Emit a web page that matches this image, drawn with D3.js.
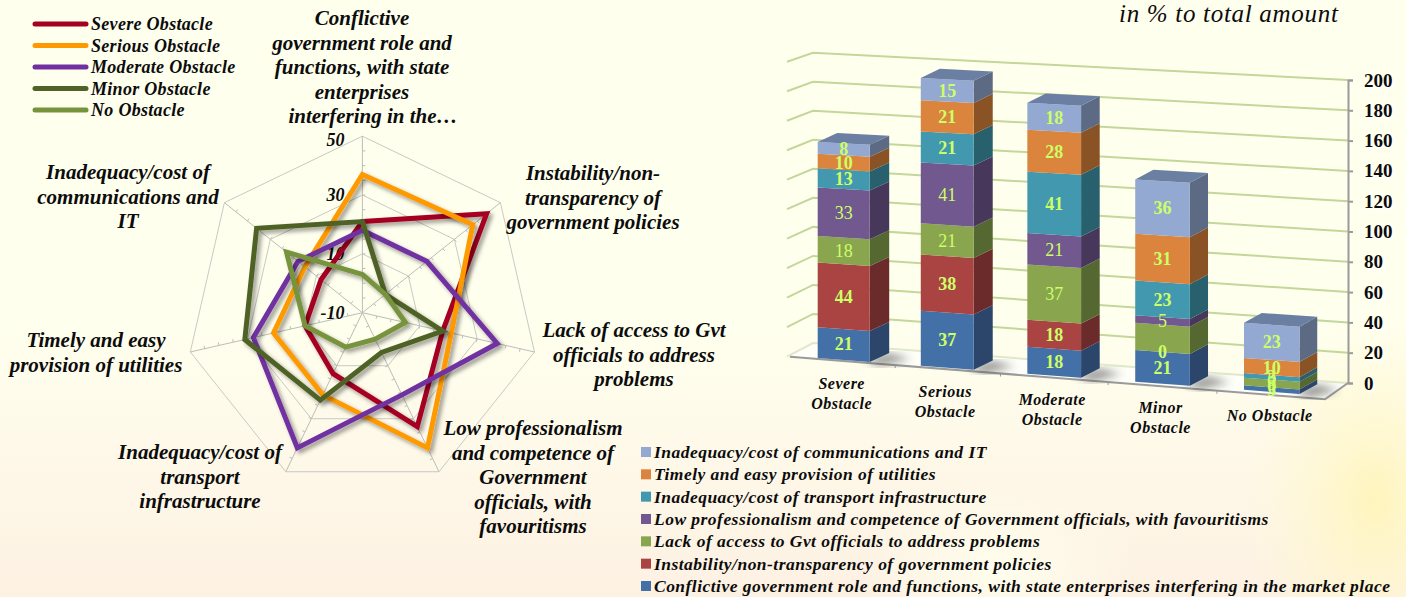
<!DOCTYPE html>
<html>
<head>
<meta charset="utf-8">
<title>Obstacles</title>
<script src="https://cdn.jsdelivr.net/npm/d3@7"></script>
<style>
  html, body { margin: 0; padding: 0; overflow: hidden; background: #ffffee; }
  svg { display: block; }
  text { font-family: "Liberation Serif", serif; fill: #0c0c0c; }
  .bi { font-weight: bold; font-style: italic; }
  .axis-value text { font-size: 19px; font-weight: bold; text-shadow: 2px 2px 3px #fff; }
</style>
</head>
<body>
<div id="chart"></div>
<script>
const obstacles = ["Severe Obstacle", "Serious Obstacle", "Moderate Obstacle", "Minor Obstacle", "No Obstacle"]
const factors = [
  "Conflictive government role and functions, with state enterprises interfering in the market place",
  "Instability/non-transparency of government policies",
  "Lack of access to Gvt officials to address problems",
  "Low professionalism and competence of Government officials, with favouritisms",
  "Inadequacy/cost of transport infrastructure",
  "Timely and easy provision of utilities",
  "Inadequacy/cost of communications and IT",
]

// values per obstacle, same order as factors
const severe = [21, 44, 18, 33, 13, 10, 8]
const serious = [37, 38, 21, 41, 21, 21, 15]
const moderate = [18, 18, 37, 21, 41, 28, 18]
const minor = [21, 0, 18, 5, 23, 31, 36]
const none = [3, 0, 5, 0, 3, 10, 23]
const allValues = [severe, serious, moderate, minor, none]

const radarTicks = [-10, 10, 30, 50]
const barTicks = [0, 20, 40, 60, 80, 100, 120, 140, 160, 180, 200]

const radarLabels = [
  ["Conflictive", "government role and", "functions, with state", "enterprises", "interfering in the…"],
  ["Instability/non-", "transparency of", "government policies"],
  ["Lack of access to Gvt", "officials to address", "problems"],
  ["Low professionalism", "and competence of", "Government", "officials, with", "favouritisms"],
  ["Inadequacy/cost of", "transport", "infrastructure"],
  ["Timely and easy", "provision of utilities"],
  ["Inadequacy/cost of", "communications and", "IT"],
]
const barCategoryLabels = [["Severe", "Obstacle"], ["Serious", "Obstacle"], ["Moderate", "Obstacle"], ["Minor", "Obstacle"], ["No Obstacle"]]

const lineColors = ["#a50021", "#ff9900", "#7030a0", "#4f6228", "#77933c"]
const barColors = ["#4470a8", "#a94442", "#89a54e", "#71588f", "#4198af", "#db843d", "#93a9d1"]

const width = 1406,
  height = 597

const svg = d3.select("#chart").append("svg").attr("width", width).attr("height", height)
const defs = svg.append("defs")

// background washes
const wash = defs.append("linearGradient").attr("id", "wash").attr("x1", 0).attr("y1", 0).attr("x2", 0).attr("y2", 1)
wash.append("stop").attr("offset", 0.55).attr("stop-color", "#ffffee")
wash.append("stop").attr("offset", 1).attr("stop-color", "#fdf1e2")
const glow = defs.append("radialGradient").attr("id", "glow")
glow.append("stop").attr("offset", 0).attr("stop-color", "#fff4b8").attr("stop-opacity", 0.9)
glow.append("stop").attr("offset", 1).attr("stop-color", "#fffbd0").attr("stop-opacity", 0)
const calm = defs.append("radialGradient").attr("id", "calm")
calm.append("stop").attr("offset", 0).attr("stop-color", "#ffffee").attr("stop-opacity", 0.9)
calm.append("stop").attr("offset", 1).attr("stop-color", "#ffffee").attr("stop-opacity", 0)

svg.append("rect").attr("width", width).attr("height", height).attr("fill", "url(#wash)")
svg.append("ellipse").attr("cx", 1000).attr("cy", 570).attr("rx", 140).attr("ry", 90).attr("fill", "url(#calm)")
svg.append("ellipse").attr("cx", 1375).attr("cy", 500).attr("rx", 130).attr("ry", 190).attr("fill", "url(#glow)")

const lineShadow = defs.append("filter").attr("id", "lineShadow").attr("x", "-20%").attr("y", "-20%").attr("width", "140%").attr("height", "140%")
lineShadow.append("feDropShadow").attr("dx", 3).attr("dy", 3).attr("stdDeviation", 2).attr("flood-color", "#000").attr("flood-opacity", 0.4)
defs.append("filter").attr("id", "blur").append("feGaussianBlur").attr("stdDeviation", 4)

drawRadar()
drawBars()
drawLegends()

svg
  .append("text")
  .attr("x", 1119)
  .attr("y", 22)
  .style("font-size", "25px")
  .style("font-style", "italic")
  .style("letter-spacing", "0.7px")
  .text("in % to total amount")

function drawRadar() {
  const cx = 362.4,
    cy = 312.7,
    radius = 176.5
  const r = d3.scaleLinear().domain([-10, 50]).range([0, radius])
  const angle = d3.scalePoint().domain(d3.range(factors.length + 1)).range([0, 2 * Math.PI])
  const px = (i, v) => cx + r(v) * Math.sin(angle(i))
  const py = (i, v) => cy - r(v) * Math.cos(angle(i))
  const g = svg.append("g")
  const idx = d3.range(factors.length)

  const ring = (v) =>
    d3
      .line()
      .x((i) => px(i, v))
      .y((i) => py(i, v))
      .curve(d3.curveLinearClosed)(idx)

  g.selectAll(".ring")
    .data(radarTicks.slice(1))
    .enter()
    .append("path")
    .attr("d", ring)
    .attr("fill", "none")
    .attr("stroke", "#c9c9c4")
    .attr("stroke-width", 1)

  g.selectAll(".spoke")
    .data(idx)
    .enter()
    .append("line")
    .attr("x1", cx)
    .attr("y1", cy)
    .attr("x2", (i) => px(i, 50))
    .attr("y2", (i) => py(i, 50))
    .attr("stroke", "#bdbdb8")
    .attr("stroke-width", 1)

  // minor ticks on every spoke
  const minorTicks = r.ticks(12).filter((t) => t > -10 && t < 50)
  idx.forEach((i) => {
    g.selectAll(null)
      .data(minorTicks)
      .enter()
      .append("line")
      .attr("x1", (t) => px(i, t))
      .attr("y1", (t) => py(i, t))
      .attr("x2", (t) => px(i, t) + 3 * Math.cos(angle(i)))
      .attr("y2", (t) => py(i, t) + 3 * Math.sin(angle(i)))
      .attr("stroke", "#bdbdb8")
  })

  g.selectAll(".tickLabel")
    .data(radarTicks)
    .enter()
    .append("text")
    .attr("class", "bi")
    .attr("x", cx - 18)
    .attr("y", (t) => py(0, t) + (t === 50 ? 10 : 6))
    .attr("text-anchor", "end")
    .style("font-size", "18px")
    .text((t) => t)

  const line = (values) =>
    d3
      .line()
      .x((v, i) => px(i, v))
      .y((v, i) => py(i, v))
      .curve(d3.curveLinearClosed)(values)

  g.selectAll(".series")
    .data(allValues)
    .enter()
    .append("path")
    .attr("d", line)
    .attr("fill", "none")
    .attr("stroke", (d, i) => lineColors[i])
    .attr("stroke-width", 5)
    .attr("stroke-linejoin", "miter")
    .attr("filter", "url(#lineShadow)")

  // label anchors: centre x and first baseline
  const anchors = [
    [362, 25],
    [593, 180],
    [634, 337],
    [533, 435],
    [200, 459],
    [96, 347],
    [128, 179],
  ]
  radarLabels.forEach((lines, i) => {
    g.selectAll(null)
      .data(lines)
      .enter()
      .append("text")
      .attr("class", "bi")
      .attr("x", (d, j) => anchors[i][0] + (i === 0 && j === 4 ? 11 : 0))
      .attr("y", (d, j) => anchors[i][1] + j * 24.6)
      .attr("text-anchor", "middle")
      .style("font-size", "21px")
      .text((d) => d)
  })
}

function drawBars() {
  const g = svg.append("g")

  // wall corners, read as y positions at each end of the value range
  const wallLeftX = 787,
    backLeftX = 813,
    axisX = 1348,
    floorRightX = 1325
  const value = d3.scaleLinear().domain([0, 200])
  const frontEdgeY = value.copy().range([356.7, 61.7])
  const backLeftY = value.copy().range([343, 52.7])
  const backRightY = value.copy().range([383, 80])

  // floor
  const floorFrontY = d3.scaleLinear().domain([wallLeftX, floorRightX]).range([356.5, 399.3])
  g.append("path")
    .attr("d", d3.line()([[wallLeftX, frontEdgeY(0)], [backLeftX, backLeftY(0)], [axisX, backRightY(0)], [floorRightX, floorFrontY(floorRightX)]]))
    .attr("fill", "#fffffa")

  // wall gridlines
  const wall = d3.line()
  g.selectAll(".grid")
    .data(barTicks)
    .enter()
    .append("path")
    .attr("d", (t) => wall([[wallLeftX, frontEdgeY(t)], [backLeftX, backLeftY(t)], [axisX, backRightY(t)]]))
    .attr("fill", "none")
    .attr("stroke", (t) => (t === 0 ? "#dfe8c8" : "#c3d79b"))
    .attr("stroke-width", 2)

  // axes
  g.append("path")
    .attr("d", d3.line()([[wallLeftX + 3, floorFrontY(wallLeftX + 3)], [floorRightX, floorFrontY(floorRightX)], [axisX, backRightY(0)]]))
    .attr("fill", "none")
    .attr("stroke", "#9a9a9a")
    .attr("stroke-width", 2)
  const axisScale = d3.scaleLinear().domain([0, 200]).range([backRightY(0), backRightY(200)])
  const yAxis = g
    .append("g")
    .attr("class", "axis-value")
    .attr("transform", `translate(${axisX},0)`)
    .call(d3.axisRight(axisScale).tickValues(barTicks).tickSize(5).tickPadding(11))
  yAxis.selectAll("path, line").attr("stroke", "#9a9a9a").attr("stroke-width", 2)
  yAxis.selectAll("text").style("fill", "#0c0c0c")

  // perspective widens the slots towards the right
  const catX = d3.scalePow().exponent(1.024).domain([0, obstacles.length - 1]).range([817.7, 1244])
  const barWidth = d3.scaleLinear().domain([0, obstacles.length - 1]).range([52, 55.5])
  const floorY = d3.scaleLinear().domain([817.7, 1299.3]).range([358, 394])
  const height = d3.scaleLinear().domain([0, 200]).range([0, 300])
  const stretch = d3.scaleLinear().domain([817.7, 1299.3]).range([0.98, 1.02])
  const depthX = d3.scaleLinear().domain([817.7, 1299.3]).range([19.5, 17.5])
  const depthY = d3.scaleLinear().domain([817.7, 1299.3]).range([-9, -10])
  const yAt = (x, v) => floorY(x) - height(v) * stretch(x)

  // floor ticks between the categories
  const tickX = (i) => (catX(i) + barWidth(i) + catX(i + 1)) / 2
  g.selectAll(".floorTick")
    .data(d3.range(obstacles.length - 1))
    .enter()
    .append("line")
    .attr("x1", tickX)
    .attr("x2", tickX)
    .attr("y1", (i) => floorFrontY(tickX(i)))
    .attr("y2", (i) => floorFrontY(tickX(i)) + 3)
    .attr("stroke", "#9a9a9a")

  const rows = obstacles.map((name, i) => {
    const row = { name }
    factors.forEach((f, j) => (row[f] = allValues[i][j]))
    return row
  })
  const stacked = d3.stack().keys(factors)(rows)
  const poly = d3.line().curve(d3.curveLinearClosed)

  obstacles.forEach((name, c) => {
    const x0 = catX(c)
    const x1 = x0 + barWidth(c)
    const dx = depthX(x0)
    const dy = depthY(x0)
    const bar = g.append("g")

    // soft shadow on the floor
    bar
      .append("path")
      .attr("d", poly([[x1 - 6, yAt(x1, 0) - 3], [x1 + dx, yAt(x1, 0) + dy], [x1 + dx + 22, yAt(x1, 0) + dy + 6], [x1 + 10, yAt(x1, 0) + 4]]))
      .attr("fill", "#555")
      .attr("opacity", 0.6)
      .attr("filter", "url(#blur)")

    stacked.forEach((layer, s) => {
      const [a, b] = layer[c]
      if (b === a) return
      const color = d3.color(barColors[s])
      bar
        .append("path")
        .attr("d", poly([[x1, yAt(x1, a)], [x1 + dx, yAt(x1, a) + dy], [x1 + dx, yAt(x1, b) + dy], [x1, yAt(x1, b)]]))
        .attr("fill", color.darker(1.3))
      bar
        .append("path")
        .attr("d", poly([[x0, yAt(x0, a)], [x1, yAt(x1, a)], [x1, yAt(x1, b)], [x0, yAt(x0, b)]]))
        .attr("fill", color)
    })

    const top = d3.sum(allValues[c])
    bar
      .append("path")
      .attr("d", poly([[x0, yAt(x0, top)], [x0 + dx, yAt(x0, top) + dy], [x1 + dx, yAt(x1, top) + dy], [x1, yAt(x1, top)]]))
      .attr("fill", "#6b7fa3")

    // data labels, the reference has none on the Minor / Lack of access segment
    stacked.forEach((layer, s) => {
      if (c === 3 && s === 2) return
      const [a, b] = layer[c]
      const mid = (x0 + x1) / 2
      bar
        .append("text")
        .attr("x", mid)
        .attr("y", yAt(mid, (a + b) / 2) + 6)
        .attr("text-anchor", "middle")
        .style("font-size", "18px")
        .style("font-weight", s === 2 || s === 3 ? "normal" : "bold")
        .style("fill", "#ccff66")
        .text(b - a)
    })

    // category label
    const lx = (x0 + x1) / 2 - 2
    g.selectAll(null)
      .data(barCategoryLabels[c])
      .enter()
      .append("text")
      .attr("class", "bi")
      .attr("x", lx)
      .attr("y", (d, j) => floorY(lx) + 29 + j * 20)
      .attr("text-anchor", "middle")
      .style("font-size", "16px")
      .style("letter-spacing", "0.5px")
      .text((d) => d)
  })
}

function drawLegends() {
  const lineRow = d3.scalePoint().domain(obstacles).range([24, 110])
  const lg = svg.append("g")
  lg.selectAll("line")
    .data(obstacles)
    .enter()
    .append("line")
    .attr("x1", 35)
    .attr("x2", 86)
    .attr("y1", (d) => lineRow(d))
    .attr("y2", (d) => lineRow(d))
    .attr("stroke", (d, i) => lineColors[i])
    .attr("stroke-width", 5)
    .attr("stroke-linecap", "round")
  lg.selectAll("text")
    .data(obstacles)
    .enter()
    .append("text")
    .attr("class", "bi")
    .attr("x", 91)
    .attr("y", (d) => lineRow(d) + 6)
    .style("font-size", "18px")
    .style("letter-spacing", "0.3px")
    .text((d) => d)

  // bottom legend reads top down, last factor first
  const reversed = factors.slice().reverse()
  const barRow = d3.scalePoint().domain(reversed).range([452, 586])
  const bl = svg.append("g")
  bl.selectAll("rect")
    .data(reversed)
    .enter()
    .append("rect")
    .attr("x", 641)
    .attr("y", (d) => barRow(d) - 5)
    .attr("width", 10)
    .attr("height", 10)
    .attr("fill", (d) => barColors[factors.indexOf(d)])
  bl.selectAll("text")
    .data(reversed)
    .enter()
    .append("text")
    .attr("class", "bi")
    .attr("x", 654)
    .attr("y", (d) => barRow(d) + 6)
    .style("font-size", "17.5px")
    .style("letter-spacing", "0.47px")
    .text((d) => d)
}
</script>
</body>
</html>
